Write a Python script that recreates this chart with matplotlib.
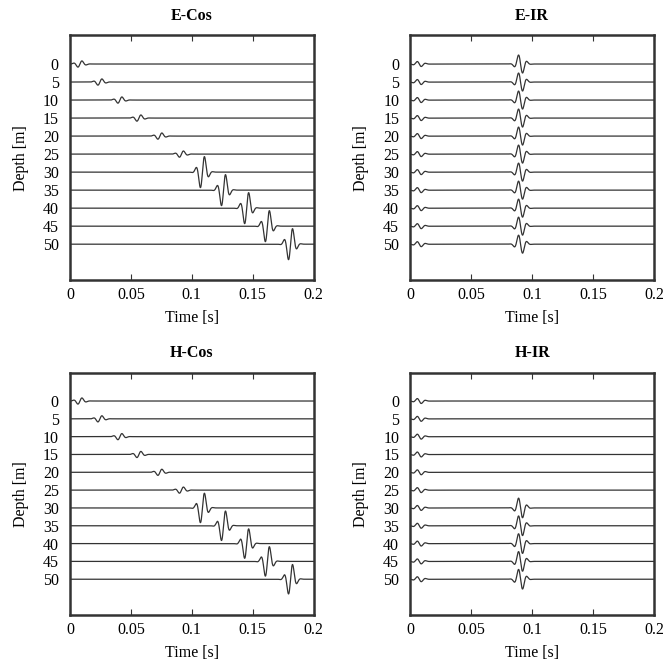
import numpy as np
import matplotlib
matplotlib.use("Agg")
import matplotlib.pyplot as plt

plt.rcParams['font.family'] = ['Liberation Serif', 'DejaVu Serif']

depths = [0, 5, 10, 15, 20, 25, 30, 35, 40, 45, 50]

# arrival times [s]
cos_times = [0.0082, 0.0246, 0.041, 0.0566, 0.0738, 0.0915, 0.1087, 0.126, 0.145, 0.162, 0.181]
cos_amps = [1.0, 1.0, 1.0, 1.0, 1.0, 1.0, 5.0, 5.0, 5.0, 5.0, 5.0]
h_cos_amps = [1.0, 1.0, 1.0, 1.0, 1.0, 1.0, 4.8, 4.8, 4.8, 4.8, 4.8]

ir_direct_time = 0.0074
ir_direct_amps = [-0.8] * 11
ir_refl_time = 0.0905
e_ir_refl_amps = [-2.9] * 11
h_ir_refl_amps = [0, 0, 0, 0, 0, 0, -3.2, -3.2, -3.2, -3.2, -3.2]

t = np.linspace(0, 0.2, 2001)


def wavelet(t0, f=135.0, s=0.0045):
    tau = t - t0
    return np.sin(2 * np.pi * f * tau) * np.exp(-(tau / s) ** 2)


def style(ax, title):
    ax.set_xlim(0, 0.2)
    ax.set_ylim(60, -8)
    ax.set_xticks([0, 0.05, 0.1, 0.15, 0.2])
    ax.set_xticklabels(['0', '0.05', '0.1', '0.15', '0.2'])
    ax.set_yticks(depths)
    ax.tick_params(axis='x', direction='in', top=True, length=4, pad=5, labelsize=11.5, color='#333333')
    ax.tick_params(axis='y', length=0, pad=8, labelsize=11.5)
    ax.set_xlabel('Time [s]', fontsize=11.5, labelpad=5)
    ax.set_ylabel('Depth [m]', fontsize=11.5, labelpad=10)
    ax.set_title(title, fontsize=11.5, fontweight='bold', pad=11)
    for sp in ax.spines.values():
        sp.set_linewidth(1.8)
        sp.set_color('#333333')


fig = plt.figure(figsize=(6.66, 6.64), dpi=100)
pos = {
    'E-Cos': [0.105, 0.578, 0.366, 0.369],
    'E-IR': [0.616, 0.578, 0.366, 0.369],
    'H-Cos': [0.105, 0.074, 0.366, 0.365],
    'H-IR': [0.616, 0.074, 0.366, 0.365],
}
lc = '#333333'

ax = fig.add_axes(pos['E-Cos'])
for d, t0, a in zip(depths, cos_times, cos_amps):
    ax.plot(t, d - a * wavelet(t0), color=lc, lw=0.9)
style(ax, 'E-Cos')

ax = fig.add_axes(pos['E-IR'])
for d, a1, a2 in zip(depths, ir_direct_amps, e_ir_refl_amps):
    ax.plot(t, d - a1 * wavelet(ir_direct_time) - a2 * wavelet(ir_refl_time), color=lc, lw=0.9)
style(ax, 'E-IR')

ax = fig.add_axes(pos['H-Cos'])
for d, t0, a in zip(depths, cos_times, h_cos_amps):
    ax.plot(t, d - a * wavelet(t0), color=lc, lw=0.9)
style(ax, 'H-Cos')

ax = fig.add_axes(pos['H-IR'])
for d, a1, a2 in zip(depths, ir_direct_amps, h_ir_refl_amps):
    ax.plot(t, d - a1 * wavelet(ir_direct_time) - a2 * wavelet(ir_refl_time), color=lc, lw=0.9)
style(ax, 'H-IR')

fig.savefig('out.png', dpi=100)
